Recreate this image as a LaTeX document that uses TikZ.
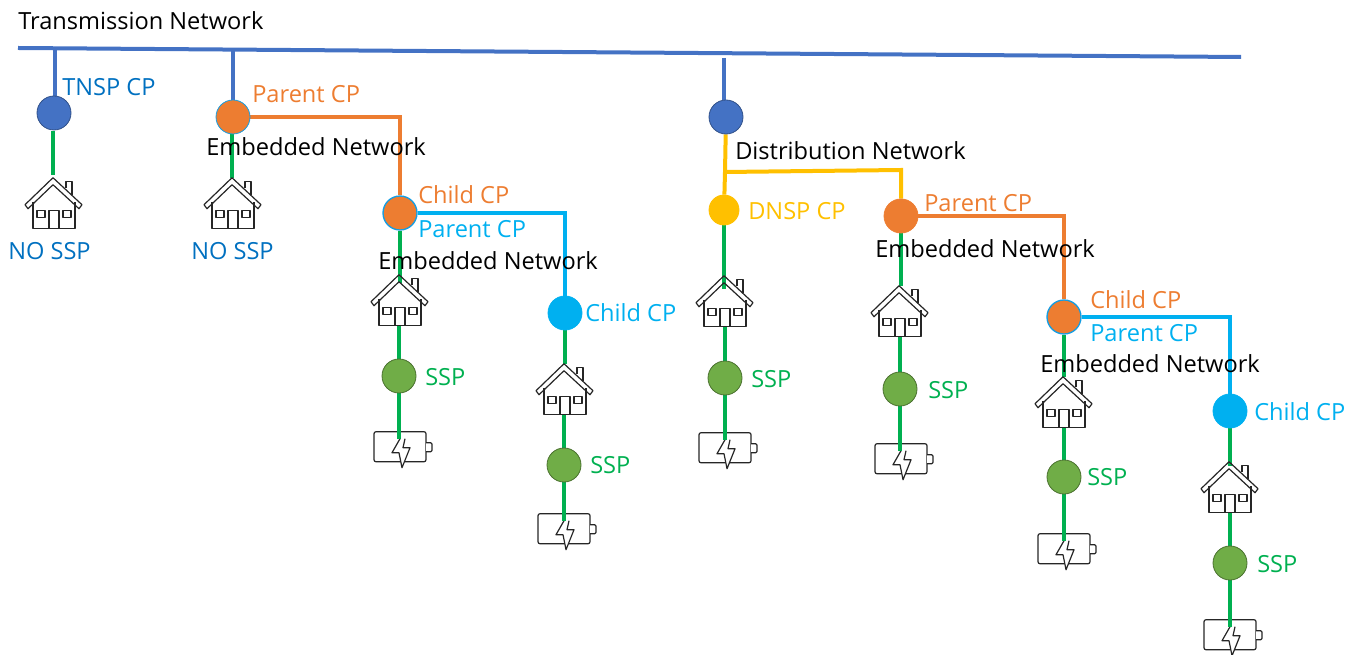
\documentclass[tikz,border=0pt]{standalone}
\usepackage{fontspec}
\setmainfont{Open Sans}
\pgfdeclarelayer{back}
\pgfdeclarelayer{mid}
\pgfsetlayers{back,mid,main}
\definecolor{busblue}{HTML}{4472C4}
\definecolor{cporange}{HTML}{ED7D31}
\definecolor{cpyellow}{HTML}{FFC000}
\definecolor{cpgreen}{HTML}{00B050}
\definecolor{dotgreen}{HTML}{70AD47}
\definecolor{cpsky}{HTML}{00B0F0}
\definecolor{txtblue}{HTML}{0070C0}
\definecolor{iconink}{HTML}{262626}
\tikzset{
  x=0.75pt,y=-0.75pt,
  wire/.style={line width=3pt,line join=miter},
  buswire/.style={wire,draw=busblue},
  orangewire/.style={wire,draw=cporange},
  skywire/.style={wire,draw=cpsky},
  yellowwire/.style={wire,draw=cpyellow},
  greenwire/.style={wire,draw=cpgreen},
  dot/.style={circle,minimum size=#1*0.75pt,inner sep=0pt,line width=0.6pt},
  dot/.default=34,
  bluedot/.style={dot,fill=busblue,draw=busblue!70!black},
  orangedot/.style={dot,fill=cporange,draw=cporange},
  splitdot/.style={dot,fill=cporange,draw=cpsky!70!busblue,line width=1pt},
  skydot/.style={dot,fill=cpsky,draw=cpsky},
  yellowdot/.style={dot=30,fill=cpyellow,draw=cpyellow},
  greendot/.style={dot,fill=dotgreen,draw=dotgreen!65!black},
  lbl/.style={anchor=west,inner sep=0pt,font=\fontsize{17.7pt}{20pt}\selectfont},
  housebox/.style={rectangle,minimum width=43.5pt,minimum height=38.25pt,inner sep=0pt},
  batbox/.style={rectangle,minimum width=43.5pt,minimum height=22.5pt,inner sep=0pt},
  icon/.style={draw=iconink,line width=0.9pt,line join=round},
  housepic/.pic={
    \draw[icon] (-20,24) -- (-20,51) -- (22,51) -- (22,24);
    \draw[icon] (13,10) -- (13,4) -- (19,4) -- (19,17);
    \draw[icon] (-28,27) -- (0,0) -- (29,27) -- (26,31) -- (0,7) -- (-25,31) -- cycle;
    \draw[icon] (-16,33) rectangle (-8,40);
    \draw[icon] (10,33) rectangle (18,40);
    \draw[icon] (-4,51) -- (-4,33) -- (6,33) -- (6,51);
  },
  batterypic/.pic={
    \draw[icon,rounded corners=1.5pt] (-26,0) rectangle (26,30);
    \draw[icon,fill=white,rounded corners=1pt] (26,11) -- (32,11) -- (32,20) -- (26,20);
    \draw[icon,fill=white] (0,7) -- (-8,21) -- (-1,21) -- (2,36) -- (10,16) -- (3,16) -- (5,7);
  }
}
\begin{document}
\begin{tikzpicture}
\useasboundingbox (0,0) rectangle (1362,655);

% Bus and taps
\coordinate (busL) at (18,48);
\coordinate (busR) at (1241,57);
\coordinate (tapA) at (55,49);
\coordinate (tapB) at (233,50);
\coordinate (tapC) at (724,58);
\coordinate (forkL) at (725,172);

% Connection points
\node[bluedot] (tnsp) at (54,113) {};
\node[orangedot,draw=cpsky!70!busblue] (parA) at (233,117) {};
\node[splitdot] (childA) at (400,213) {};
\node[skydot] (childB) at (565,313) {};
\node[bluedot] (dist) at (726,117) {};
\node[yellowdot] (dnsp) at (724,210) {};
\node[orangedot] (parB) at (901,216) {};
\node[splitdot] (childC) at (1064,317) {};
\node[skydot] (childD) at (1230,411) {};

% Storage service points
\node[greendot] (sspA) at (399,376) {};
\node[greendot] (sspB) at (564,465) {};
\node[greendot] (sspC) at (725,378) {};
\node[greendot] (sspD) at (900,389) {};
\node[greendot] (sspE) at (1064,477) {};
\node[greendot] (sspF) at (1230,563) {};

% Houses
\node[housebox] (h1) at (53,203.5) {};
\node[housebox] (h2) at (232,203.5) {};
\node[housebox] (h3) at (399,300.5) {};
\node[housebox] (h4) at (564,389.5) {};
\node[housebox] (h5) at (724,301.5) {};
\node[housebox] (h6) at (899,311.5) {};
\node[housebox] (h7) at (1063,402.5) {};
\node[housebox] (h8) at (1229,487.5) {};
\foreach \h in {h1,h2,h3,h4,h5,h6,h7,h8}
  \pic at (\h.north) {housepic};

% Batteries
\node[batbox] (b1) at (400,447) {};
\node[batbox] (b2) at (564,529) {};
\node[batbox] (b3) at (725,448) {};
\node[batbox] (b4) at (901,459) {};
\node[batbox] (b5) at (1064,549) {};
\node[batbox] (b6) at (1230,635) {};
\begin{pgfonlayer}{back}
\foreach \b in {b1,b2,b3,b4,b5,b6}
  \pic at (\b.north) {batterypic};
\end{pgfonlayer}

% Connectors
\begin{pgfonlayer}{mid}
\draw[buswire] (busL) -- (busR);
\draw[buswire] (tapA) -- (tapA |- tnsp.north);
\draw[buswire] (tapB) -- (parA);
\draw[buswire] (tapC) -- (tapC |- dist.north);

\draw[greenwire] (tnsp.south -| h1.north) ++(0,1) -- ([yshift=2pt]h1.north);
\draw[greenwire] (parA) ++(-1,0) -- (h2.north);

\draw[orangewire] (parA) -| (childA);
\draw[skywire] (childA) -| (childB);
\draw[greenwire] (childA) -- ([yshift=-6pt]h3.north -| childA);
\draw[greenwire] (h3.south -| sspA) -- (sspA);
\draw[greenwire] (sspA) -- ([yshift=-5.5pt]b1.north -| sspA);

\draw[greenwire] (childB) -- (h4.north -| childB);
\draw[greenwire] (h4.south -| sspB) -- (sspB);
\draw[greenwire] (sspB) -- ([yshift=-5.5pt]b2.north -| sspB);

\draw[yellowwire] (dist) -- (forkL) -- (dnsp);
\draw[yellowwire] (forkL) -- (901,170) -- (parB);
\draw[greenwire] (dnsp) -- ([yshift=-10pt]h5.north -| dnsp);
\draw[greenwire] (h5.south -| sspC) -- (sspC);
\draw[greenwire] (sspC) -- ([yshift=-5.5pt]b3.north -| sspC);

\draw[orangewire] (parB) -| (childC);
\draw[greenwire] (parB) -- (h6.north -| parB);
\draw[greenwire] (h6.south -| sspD) -- (sspD);
\draw[greenwire] (sspD) -- ([yshift=-5.5pt]b4.north -| sspD);

\draw[skywire] (childC) -| (childD);
\draw[greenwire] (childC) -- (h7.north -| childC);
\draw[greenwire] (h7.south -| sspE) -- (sspE);
\draw[greenwire] (sspE) -- ([yshift=-5.5pt]b5.north -| sspE);

\draw[greenwire] (childD) -- ([yshift=-3pt]h8.north -| childD);
\draw[greenwire] (h8.south -| sspF) -- (sspF);
\draw[greenwire] (sspF) -- ([yshift=-5.5pt]b6.north -| sspF);
\end{pgfonlayer}

% Labels
\node[lbl] (tTrans) at (18,21) {Transmission Network};
\node[lbl,text=txtblue] (tTnsp) at (62,87) {TNSP CP};
\node[lbl,text=txtblue] (tNoA) at (8,251) {NO SSP};
\node[lbl,text=txtblue] (tNoB) at (191,251) {NO SSP};
\node[lbl,text=cporange] (tParA) at (252,94) {Parent CP};
\node[lbl] (tEmbA) at (206,147) {Embedded Network};
\node[lbl,text=cporange] (tChildA) at (418,195) {Child CP};
\node[lbl,text=cpsky] (tParB) at (418,229) {Parent CP};
\node[lbl] (tEmbB) at (378,261) {Embedded Network};
\node[lbl,text=cpsky] (tChildB) at (585,313) {Child CP};
\node[lbl,text=cpgreen] (tSspA) at (425,377) {SSP};
\node[lbl,text=cpgreen] (tSspB) at (590,465) {SSP};
\node[lbl] (tDist) at (735,151) {Distribution Network};
\node[lbl,text=cpyellow] (tDnsp) at (748,211) {DNSP CP};
\node[lbl,text=cporange] (tParC) at (924,203) {Parent CP};
\node[lbl] (tEmbC) at (875,249) {Embedded Network};
\node[lbl,text=cporange] (tChildC) at (1090,300) {Child CP};
\node[lbl,text=cpsky] (tParD) at (1090,333) {Parent CP};
\node[lbl] (tEmbD) at (1040,364) {Embedded Network};
\node[lbl,text=cpsky] (tChildD) at (1254,412) {Child CP};
\node[lbl,text=cpgreen] (tSspC) at (751,379) {SSP};
\node[lbl,text=cpgreen] (tSspD) at (928,390) {SSP};
\node[lbl,text=cpgreen] (tSspE) at (1087,477) {SSP};
\node[lbl,text=cpgreen] (tSspF) at (1257,564) {SSP};
\end{tikzpicture}
\end{document}
